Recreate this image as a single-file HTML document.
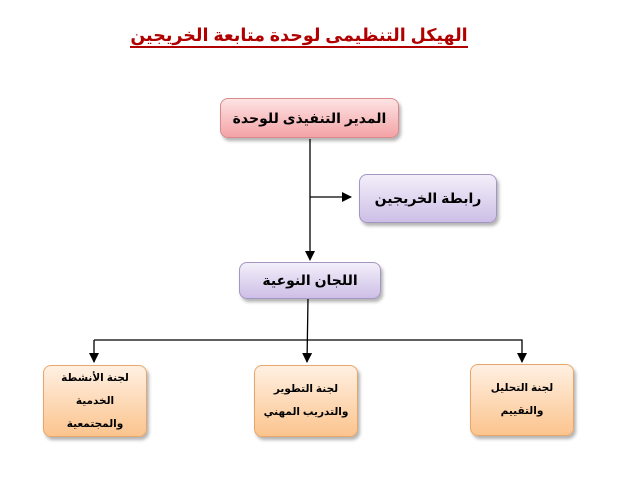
<!DOCTYPE html>
<html><head><meta charset="utf-8"><style>
body{margin:0;width:631px;height:482px;background:#fff;position:relative;overflow:hidden;font-family:"Liberation Sans","DejaVu Sans",sans-serif;font-weight:bold;}
.t{position:absolute;left:120px;top:25px;width:358px;text-align:center;color:#b00000;font-size:17.5px;direction:rtl;white-space:nowrap;}
.t span{border-bottom:2px solid #b00000;padding-bottom:1px;}
.b{position:absolute;box-sizing:border-box;border-radius:8px;display:flex;align-items:center;justify-content:center;text-align:center;direction:rtl;color:#000;box-shadow:2px 3px 3px rgba(0,0,0,0.3);}
.pink{background:linear-gradient(#fde3e3,#f4a3a6);border:1px solid #d98a8c;font-size:14px;}
.pur{background:linear-gradient(#f3effa,#cdbfe6);border:1px solid #a395c4;font-size:14px;}
.or{background:linear-gradient(#fff0e2,#fbc48e);border:1px solid #e9a66a;font-size:10.5px;line-height:23px;}
</style></head><body>
<div class="t"><span>الهيكل التنظيمى لوحدة متابعة الخريجين</span></div>
<svg width="631" height="482" style="position:absolute;left:0;top:0">
<defs><marker id="a" markerWidth="10" markerHeight="10" refX="9" refY="5" orient="auto" markerUnits="userSpaceOnUse"><path d="M0,0 L10,5 L0,10z" fill="#000"/></marker></defs>
<g stroke="#000" stroke-width="1.3" fill="none">
<line x1="310" y1="139" x2="310" y2="260" marker-end="url(#a)"/>
<line x1="310" y1="197" x2="351" y2="197" marker-end="url(#a)"/>
<line x1="308" y1="299" x2="307" y2="362" marker-end="url(#a)"/>
<polyline points="94,340 522,340 522,362" marker-end="url(#a)"/>
<line x1="94" y1="340" x2="94" y2="362" marker-end="url(#a)"/>
</g></svg>
<div class="b pink" style="left:220px;top:98px;width:179px;height:40px">المدير التنفيذى للوحدة</div>
<div class="b pur" style="left:359px;top:174px;width:138px;height:49px">رابطة الخريجين</div>
<div class="b pur" style="left:239px;top:262px;width:142px;height:37px">اللجان النوعية</div>
<div class="b or" style="left:43px;top:365px;width:104px;height:72px">لجنة الأنشطة<br>الخدمية<br>والمجتمعية</div>
<div class="b or" style="left:254px;top:365px;width:104px;height:72px">لجنة التطوير<br>والتدريب المهني</div>
<div class="b or" style="left:470px;top:364px;width:104px;height:72px">لجنة التحليل<br>والتقييم</div>
</body></html>
